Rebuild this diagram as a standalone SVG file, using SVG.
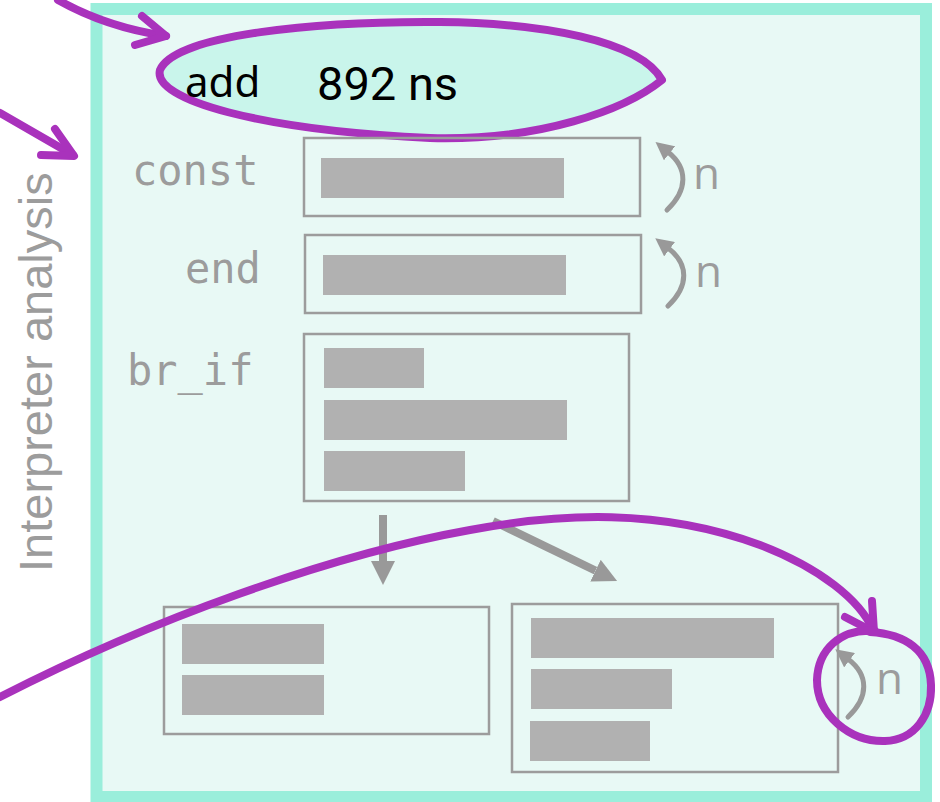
<svg xmlns="http://www.w3.org/2000/svg" width="940" height="802" viewBox="0 0 940 802">
  <defs>
    <style>
      .box { fill: none; stroke: #9c9c9c; stroke-width: 2.5; }
      .bar { fill: #b1b1b1; }
      .op { font-family: "DejaVu Sans Mono", monospace; font-size: 42px; fill: #9c9c9c; }
      .rep { font-family: "Open Sans", sans-serif; font-size: 44px; fill: #9c9c9c; }
      .flow { stroke: #999999; stroke-width: 8; fill: none; }
      .loop { stroke: #999999; stroke-width: 5; fill: none; stroke-linecap: round; }
      .ink { stroke: #a932bc; stroke-width: 8; fill: none; stroke-linecap: round; stroke-linejoin: round; }
      .bubble { fill: #c9f5eb; }
    </style>
    <marker id="flowHead" markerUnits="userSpaceOnUse" markerWidth="24" markerHeight="24" refX="0" refY="12" orient="auto">
      <path d="M0,0 L24,12 L0,24 Z" fill="#999999"/>
    </marker>
    <marker id="loopHead" markerUnits="userSpaceOnUse" markerWidth="18" markerHeight="18" refX="2" refY="9" orient="auto">
      <path d="M0,0 L18,9 L0,18 Z" fill="#999999"/>
    </marker>
  </defs>

  <!-- interpreter frame -->
  <g id="frame">
    <rect x="96.5" y="9" width="829.5" height="788" fill="#e8f9f5" stroke="#9aeedb" stroke-width="12"/>
    <text transform="translate(52,572) rotate(-90)" font-family="Liberation Sans, Arial, sans-serif" font-size="47" fill="#9c9c9c">Interpreter analysis</text>
  </g>

  <!-- highlighted instruction timing -->
  <g id="add-timing">
    <path d="M330,138 L410,138" stroke="#333" stroke-width="2"/>
    <path class="ink bubble" d="M662,80 C640,40 540,23 440,22 C320,21 175,34 160,70 C152,100 260,130 430,138 C540,141 625,110 662,80 Z"/>
    <text x="185" y="97" font-family="Noto Sans, Open Sans, sans-serif" font-size="42" fill="#000">add</text>
    <text x="317" y="100" font-family="Roboto, Liberation Sans, sans-serif" font-size="47" fill="#000">892 ns</text>
  </g>

  <!-- const handler -->
  <g id="const">
    <text class="op" x="132" y="185">const</text>
    <rect class="box" x="304" y="138" width="336" height="78"/>
    <rect class="bar" x="321" y="158" width="243" height="40"/>
  </g>

  <!-- end handler -->
  <g id="end">
    <text class="op" x="185" y="283">end</text>
    <rect class="box" x="305" y="235" width="336" height="78"/>
    <rect class="bar" x="323" y="255" width="243" height="40"/>
  </g>

  <!-- br_if handler -->
  <g id="br_if">
    <text class="op" x="127" y="385">br_if</text>
    <rect class="box" x="304" y="334" width="325" height="167"/>
    <rect class="bar" x="324" y="348" width="100" height="40"/>
    <rect class="bar" x="324" y="400" width="243" height="40"/>
    <rect class="bar" x="324" y="451" width="141" height="40"/>
  </g>

  <!-- fall-through block -->
  <g id="fallthrough">
    <rect class="box" x="164" y="607" width="325" height="127"/>
    <rect class="bar" x="182" y="624" width="142" height="40"/>
    <rect class="bar" x="182" y="675" width="142" height="40"/>
  </g>

  <!-- taken branch block -->
  <g id="taken">
    <rect class="box" x="512" y="604" width="326" height="168"/>
    <rect class="bar" x="531" y="618" width="243" height="40"/>
    <rect class="bar" x="531" y="669" width="141" height="40"/>
    <rect class="bar" x="530" y="721" width="120" height="40"/>
  </g>

  <!-- control flow and repetition -->
  <g id="connectors">
    <line class="flow" x1="383" y1="515" x2="383" y2="561" marker-end="url(#flowHead)"/>
    <line class="flow" x1="493" y1="521" x2="595.5" y2="570.6" marker-end="url(#flowHead)"/>
    <path class="loop" d="M667,210 C688,190 688,168 668,152" marker-end="url(#loopHead)"/>
    <text class="rep" x="693" y="189">n</text>
    <path class="loop" d="M668,306 C689,286 689,264 668,248" marker-end="url(#loopHead)"/>
    <text class="rep" x="695" y="287">n</text>
    <path class="loop" d="M848,717 C869,697 869,675 848,659" marker-end="url(#loopHead)"/>
    <text class="rep" x="876" y="694">n</text>
  </g>

  <!-- hand-drawn annotations -->
  <g id="annotations">
    <path class="ink" d="M58,0 C90,18 125,30 166,36"/>
    <polyline class="ink" points="142,16 166,36 135,45"/>
    <path class="ink" d="M0,113 L73,155"/>
    <polyline class="ink" points="55,129 74,156 41,155"/>
    <path class="ink" d="M0,697 C150,620 330,555 470,530 C560,513 660,508 760,545 C820,568 860,600 873,630"/>
    <polyline class="ink" points="872,601 874,632 845,617"/>
    <path class="ink" d="M875,631 C840,628 818,650 817,680 C817,715 850,742 885,741 C915,740 932,715 931,685 C930,650 905,634 870,632"/>
  </g>
</svg>
